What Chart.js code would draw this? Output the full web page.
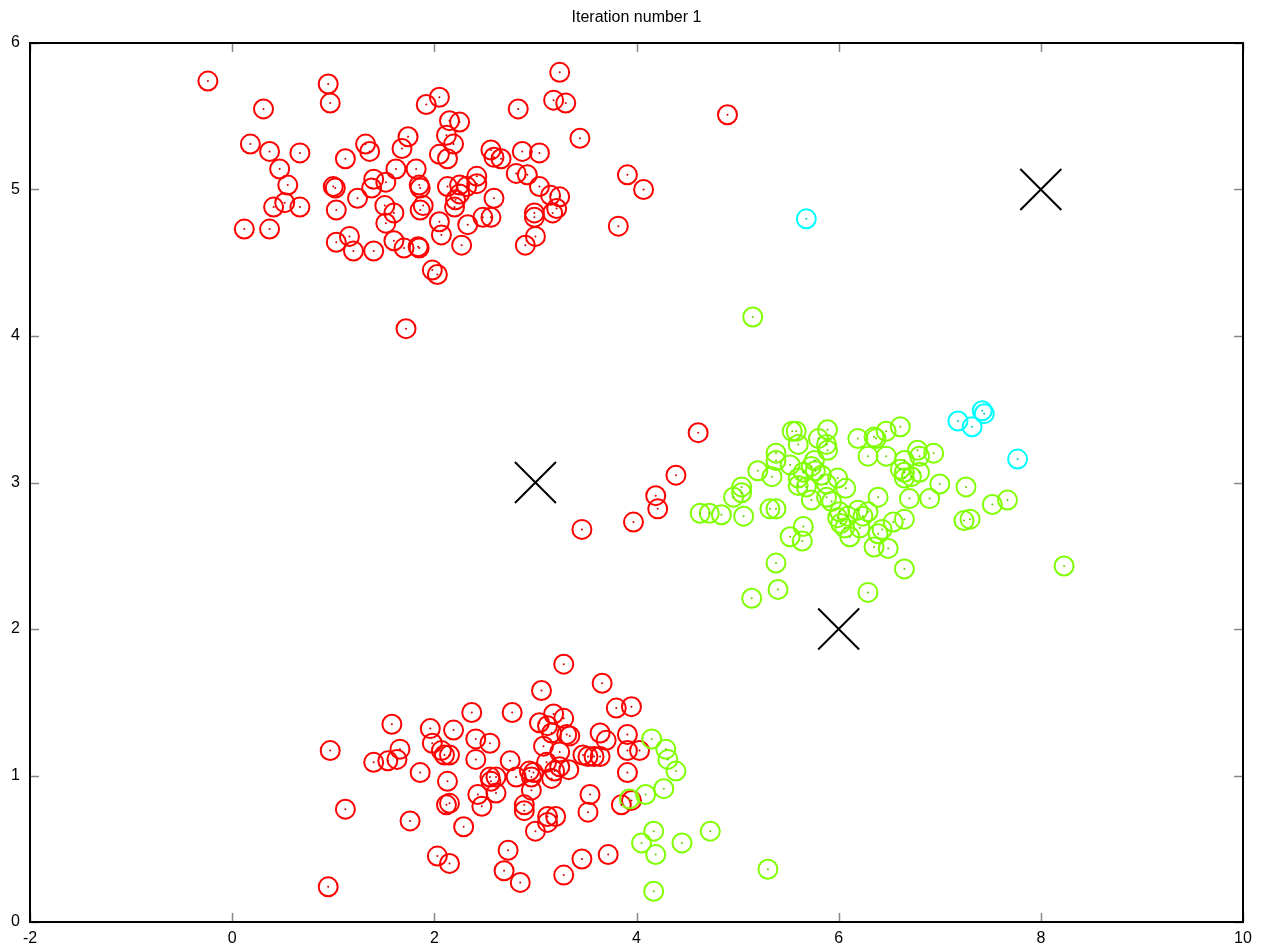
<!DOCTYPE html>
<html>
<head>
<meta charset="utf-8">
<title>Iteration number 1</title>
<script src="https://cdn.jsdelivr.net/npm/chart.js@4"></script>
<style>
  body { margin: 0; background: #fff; }
</style>
</head>
<body>
<canvas id="chart" width="1262" height="952"></canvas>
<script>
// Punti assegnati a ciascun centroide
const redPoints = [
  [-0.24,5.74],[0.95,5.72],[0.97,5.59],[0.31,5.55],[0.18,5.31],[0.37,5.26],[0.67,5.25],[0.47,5.14],
  [0.55,5.03],[0.41,4.88],[0.52,4.91],[0.67,4.88],[0.12,4.73],[0.37,4.73],[1.00,5.02],[1.02,5.01],
  [1.03,4.86],[1.12,5.21],[1.32,5.31],[1.36,5.26],[1.24,4.94],[1.40,5.07],[1.38,5.01],[1.52,5.05],
  [1.62,5.14],[1.68,5.28],[1.74,5.36],[1.51,4.89],[1.60,4.84],[1.52,4.77],[1.03,4.64],[1.16,4.68],
  [1.20,4.58],[1.40,4.58],[1.60,4.65],[1.70,4.60],[1.72,4.05],
  [3.24,5.80],[2.05,5.63],[1.92,5.58],[2.83,5.55],[3.18,5.61],[3.30,5.59],[2.15,5.47],[2.25,5.46],
  [3.44,5.35],[2.12,5.37],[2.19,5.31],[2.56,5.27],[2.66,5.21],[2.59,5.22],[2.05,5.24],[2.13,5.21],
  [2.87,5.26],[3.04,5.25],[1.82,5.14],[1.85,5.03],[1.86,5.01],[2.81,5.11],[2.92,5.10],[2.42,5.09],
  [2.13,5.02],[2.25,5.03],[2.32,5.02],[2.42,5.04],[3.04,5.02],[2.59,4.94],[2.21,4.93],[2.20,4.88],
  [2.25,4.97],[3.15,4.96],[3.24,4.95],[1.89,4.89],[1.86,4.86],[2.99,4.84],[2.99,4.81],[3.17,4.84],
  [3.21,4.87],[2.05,4.78],[2.33,4.76],[2.48,4.81],[2.56,4.81],[2.07,4.69],[3.00,4.68],[2.90,4.62],
  [2.27,4.62],[1.84,4.61],[1.85,4.60],[1.98,4.45],[2.03,4.42],[3.91,5.10],[4.07,5.00],[3.82,4.75],
  [4.90,5.51],
  [4.61,3.34],[4.39,3.05],[4.19,2.91],[4.21,2.82],[3.97,2.73],[3.46,2.68],
  [0.97,1.17],[1.58,1.35],[1.66,1.18],[1.40,1.09],[1.54,1.10],[1.63,1.11],[1.96,1.32],[2.19,1.31],
  [1.98,1.22],[2.07,1.17],[2.10,1.14],[2.15,1.14],[2.37,1.43],[2.77,1.43],[2.41,1.25],[2.55,1.22],
  [2.41,1.11],[2.75,1.10],[1.86,1.02],[2.13,0.96],[2.55,0.99],[2.61,0.99],[2.56,0.96],[2.81,0.99],
  [2.94,1.03],[2.43,0.87],[2.61,0.88],[2.12,0.80],[2.15,0.81],[2.47,0.79],[2.89,0.80],[2.89,0.76],
  [1.12,0.77],[1.76,0.69],[2.29,0.65],[2.73,0.49],[2.03,0.45],[2.15,0.40],[2.69,0.35],[2.85,0.27],
  [0.95,0.24],
  [3.28,1.76],[3.06,1.58],[3.66,1.63],[3.80,1.46],[3.95,1.47],[3.18,1.42],[3.28,1.39],[3.04,1.36],
  [3.12,1.34],[3.16,1.29],[3.31,1.28],[3.34,1.27],[3.08,1.20],[3.24,1.16],[3.64,1.29],[3.70,1.24],
  [3.91,1.28],[3.91,1.17],[4.03,1.17],[3.91,1.02],[3.47,1.14],[3.52,1.13],[3.58,1.13],[3.64,1.13],
  [3.11,1.09],[3.24,1.06],[3.33,1.04],[3.19,1.03],[2.98,1.02],[2.96,0.99],[3.16,0.98],[2.96,0.90],
  [3.54,0.87],[3.52,0.75],[3.85,0.80],[3.95,0.83],[3.12,0.72],[3.12,0.68],[3.20,0.72],[3.00,0.62],
  [3.28,0.32],[3.46,0.43],[3.72,0.46]
];

const greenPoints = [
  [4.15,1.25],[4.29,1.18],[4.31,1.11],[4.39,1.03],[4.27,0.91],[4.09,0.87],[3.93,0.84],[4.17,0.62],
  [4.73,0.62],[4.05,0.54],[4.45,0.54],[4.19,0.46],[4.17,0.21],[5.30,0.36],
  [5.15,4.13],
  [5.54,3.35],[5.58,3.35],[5.60,3.26],[5.89,3.36],[5.80,3.30],[5.89,3.22],[5.88,3.26],[6.19,3.30],
  [6.35,3.31],[6.37,3.30],[6.29,3.18],[5.38,3.20],[5.38,3.15],[5.52,3.12],[5.20,3.08],[5.34,3.04],
  [5.76,3.15],[5.73,3.11],[5.77,3.08],[5.65,3.07],[5.60,3.03],[5.60,2.98],[5.68,2.97],[5.73,2.88],
  [5.83,3.05],[5.99,3.03],[5.88,2.99],[6.07,2.96],[5.93,2.87],[5.88,2.90],[6.39,2.90],[5.04,2.97],
  [5.04,2.93],[4.96,2.90],[4.63,2.79],[4.72,2.79],[4.84,2.78],[5.06,2.77],[5.32,2.82],[5.38,2.82],
  [6.01,2.80],[5.99,2.76],[6.02,2.72],[6.09,2.77],[6.19,2.81],[6.24,2.77],[6.29,2.80],[6.21,2.69],
  [6.11,2.63],[6.06,2.69],[6.39,2.65],[6.35,2.56],[5.65,2.70],[5.52,2.63],[5.64,2.60],[5.38,2.45],
  [5.40,2.27],[5.14,2.21],[6.29,2.25],
  [6.61,3.38],[6.47,3.35],[6.47,3.18],[6.78,3.22],[6.94,3.20],[6.80,3.18],[6.65,3.15],[6.65,3.07],
  [6.61,3.09],[6.72,3.04],[6.80,3.07],[6.65,3.03],[7.00,2.99],[6.70,2.89],[6.90,2.89],[7.26,2.97],
  [7.52,2.85],[7.67,2.88],[7.24,2.74],[7.30,2.75],[6.65,2.75],[6.54,2.73],[6.43,2.68],[6.49,2.55],
  [6.65,2.41],[8.23,2.43]
];

const cyanPoints = [
  [5.68,4.80],[7.18,3.42],[7.32,3.38],[7.42,3.49],[7.44,3.47],[7.77,3.16]
];

// Centroidi iniziali
const centroids = [[3,3],[6,2],[8,5]];

// Etichette degli assi
const xTicks = [-2, 0, 2, 4, 6, 8, 10];
const yTicks = [0, 1, 2, 3, 4, 5, 6];

const titleText = 'Iteration number 1';
const fontFamily = '"Liberation Sans", Arial, Helvetica, sans-serif';

const toXY = pts => pts.map(p => ({ x: p[0], y: p[1] }));

function circles(pts, color) {
  return {
    data: toXY(pts),
    pointStyle: 'circle',
    pointRadius: 9.5,
    pointBorderWidth: 2,
    pointBorderColor: color,
    pointBackgroundColor: 'rgba(0,0,0,0)',
    showLine: false,
    order: 2
  };
}

function dots(pts, color) {
  return {
    data: toXY(pts),
    pointStyle: 'circle',
    pointRadius: 1,
    pointBorderWidth: 0,
    pointBackgroundColor: color,
    showLine: false,
    order: 0
  };
}

// Cornice, tacche e titolo come in gnuplot
const framePlugin = {
  id: 'frame',
  beforeDatasetsDraw(chart) {
    const { ctx, chartArea: a, scales } = chart;
    ctx.save();
    ctx.strokeStyle = '#888';
    ctx.lineWidth = 1.5;
    ctx.beginPath();
    xTicks.forEach(v => {
      const px = Math.round(scales.x.getPixelForValue(v)) + 0.5;
      ctx.moveTo(px, a.bottom); ctx.lineTo(px, a.bottom - 9);
      ctx.moveTo(px, a.top); ctx.lineTo(px, a.top + 9);
    });
    yTicks.forEach(v => {
      const py = Math.round(scales.y.getPixelForValue(v)) + 0.5;
      ctx.moveTo(a.left, py); ctx.lineTo(a.left + 9, py);
      ctx.moveTo(a.right, py); ctx.lineTo(a.right - 9, py);
    });
    ctx.stroke();
    ctx.restore();
  },
  afterDraw(chart) {
    const { ctx, chartArea: a } = chart;
    ctx.save();
    ctx.strokeStyle = '#000';
    ctx.lineWidth = 2;
    ctx.strokeRect(a.left, a.top, a.right - a.left, a.bottom - a.top);
    ctx.fillStyle = '#000';
    ctx.font = '16px ' + fontFamily;
    ctx.textAlign = 'center';
    ctx.textBaseline = 'middle';
    ctx.fillText(titleText, (a.left + a.right) / 2, 18);
    ctx.restore();
  }
};

new Chart(document.getElementById('chart'), {
  type: 'scatter',
  data: {
    datasets: [
      circles(greenPoints, '#80ff00'),
      circles(cyanPoints, '#00ffff'),
      circles(redPoints, '#ff0000'),
      dots(greenPoints, '#66cc00'),
      dots(cyanPoints, '#00cccc'),
      dots(redPoints, '#cc0000'),
      {
        data: toXY(centroids),
        pointStyle: 'crossRot',
        pointRadius: 29,
        pointBorderWidth: 2,
        pointBorderColor: '#000',
        showLine: false,
        order: -1
      }
    ]
  },
  options: {
    responsive: false,
    animation: false,
    events: [],
    layout: { autoPadding: false, padding: { top: 43, right: 19, left: 0, bottom: 0 } },
    plugins: {
      legend: { display: false },
      tooltip: { enabled: false },
      title: { display: false }
    },
    scales: {
      x: {
        type: 'linear',
        min: -2,
        max: 10,
        afterBuildTicks: s => { s.ticks = xTicks.map(v => ({ value: v })); },
        afterFit: s => { s.height = 30; s.paddingLeft = 0; s.paddingRight = 0; },
        grid: { display: false, drawTicks: false },
        border: { display: false },
        ticks: { color: '#000', padding: 7, maxRotation: 0, font: { size: 16, family: fontFamily } }
      },
      y: {
        type: 'linear',
        min: 0,
        max: 6,
        afterBuildTicks: s => { s.ticks = yTicks.map(v => ({ value: v })); },
        afterFit: s => { s.width = 30; s.paddingTop = 0; s.paddingBottom = 0; },
        grid: { display: false, drawTicks: false },
        border: { display: false },
        ticks: { color: '#000', padding: 10, font: { size: 16, family: fontFamily } }
      }
    }
  },
  plugins: [framePlugin]
});
</script>
</body>
</html>
